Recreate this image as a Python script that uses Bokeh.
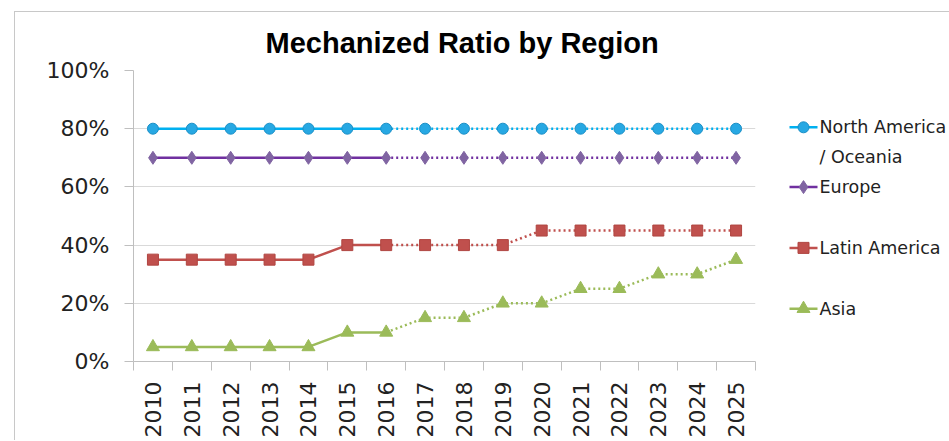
import math
from bokeh.plotting import figure
from bokeh.layouts import row
from bokeh.models import Range1d, FixedTicker, NumeralTickFormatter
from bokeh.core.properties import value
from bokeh.embed import file_html
from bokeh.resources import INLINE

# ---------------- data ----------------
years = [2010, 2011, 2012, 2013, 2014, 2015, 2016, 2017,
         2018, 2019, 2020, 2021, 2022, 2023, 2024, 2025]
last_actual_year = 2016
north_america = [0.80, 0.80, 0.80, 0.80, 0.80, 0.80, 0.80, 0.80,
                 0.80, 0.80, 0.80, 0.80, 0.80, 0.80, 0.80, 0.80]
europe = [0.70, 0.70, 0.70, 0.70, 0.70, 0.70, 0.70, 0.70,
          0.70, 0.70, 0.70, 0.70, 0.70, 0.70, 0.70, 0.70]
latin_america = [0.35, 0.35, 0.35, 0.35, 0.35, 0.40, 0.40, 0.40,
                 0.40, 0.40, 0.45, 0.45, 0.45, 0.45, 0.45, 0.45]
asia = [0.05, 0.05, 0.05, 0.05, 0.05, 0.10, 0.10, 0.15,
        0.15, 0.20, 0.20, 0.25, 0.25, 0.30, 0.30, 0.35]
series_names = ["North America\n/ Oceania", "Europe", "Latin America", "Asia"]
y_ticks = [0.0, 0.2, 0.4, 0.6, 0.8, 1.0]
title_text = "Mechanized Ratio by Region"

series = [
    (series_names[0], north_america, "#00B0F0", "circle", "#27A8E3", "#1B8FC6", 11),
    (series_names[1], europe, "#7030A0", "diamond", "#8064A2", "#8064A2", 13),
    (series_names[2], latin_america, "#C0504D", "square", "#C0504D", "#B04540", 11),
    (series_names[3], asia, "#9BBB59", "triangle", "#9BBB59", "#9BBB59", 13),
]

FONT = "DejaVu Sans"
GRID = "#d9d9d9"
AXIS = "#bfbfbf"
TXT = "#222222"

# layout (page pixels)
TOP_B, BOT_B, H = 58, 78, 428
PW, QW = 745, 189

# ---------------- main chart ----------------
p = figure(width=PW, height=H, output_backend="svg", toolbar_location=None,
           x_range=Range1d(years[0] - 0.5, years[-1] + 0.5), y_range=Range1d(0, 1),
           min_border_left=118, min_border_right=5, min_border_top=TOP_B, min_border_bottom=BOT_B)
p.outline_line_color = None
p.background_fill_color = "white"
p.border_fill_color = "white"
p.xgrid.visible = False
p.ygrid.grid_line_color = GRID
p.ygrid.grid_line_width = 1

p.title.text = title_text
p.title.align = "left"
p.title.offset = 132
p.title.vertical_align = "bottom"
p.title.standoff = 24
p.title.text_font = "Liberation Sans"
p.title.text_font_style = "bold"
p.title.text_font_size = "29px"
p.title.text_color = "#000000"

xa = p.xaxis[0]
xa.ticker = FixedTicker(ticks=years, minor_ticks=[y - 0.5 for y in years] + [years[-1] + 0.5])
xa.major_tick_out = 0
xa.major_tick_in = 0
xa.minor_tick_out = 9
xa.minor_tick_in = 0
xa.minor_tick_line_color = AXIS
xa.axis_line_color = AXIS
xa.major_label_orientation = math.pi / 2
xa.major_label_standoff = 11
xa.major_label_text_font = FONT
xa.major_label_text_font_size = "22px"
xa.major_label_text_color = TXT

ya = p.yaxis[0]
ya.ticker = FixedTicker(ticks=y_ticks)
ya.formatter = NumeralTickFormatter(format="0%")
ya.major_tick_out = 9
ya.major_tick_in = 0
ya.minor_tick_line_color = None
ya.major_tick_line_color = AXIS
ya.axis_line_color = AXIS
ya.major_label_standoff = 15
ya.major_label_text_font = FONT
ya.major_label_text_font_size = "22px"
ya.major_label_text_color = TXT
p.ygrid.ticker = ya.ticker

for name, vals, lc, marker, fc, ec, sz in series:
    actual_x = [y for y in years if y <= last_actual_year]
    actual_y = [v for y, v in zip(years, vals) if y <= last_actual_year]
    fc_x = [y for y in years if y >= last_actual_year]
    fc_y = [v for y, v in zip(years, vals) if y >= last_actual_year]
    p.line(actual_x, actual_y, line_color=lc, line_width=2.5)
    p.line(fc_x, fc_y, line_color=lc, line_width=2.5, line_dash="2 3")
    p.scatter(years, vals, marker=marker, size=sz, fill_color=fc, line_color=ec, line_width=1)

# ---------------- legend panel (coordinates = page pixels) ----------------
q = figure(width=QW, height=H, output_backend="svg", toolbar_location=None,
           x_range=Range1d(760, 760 + QW), y_range=Range1d(12 + H - BOT_B, 12 + TOP_B),
           x_axis_location=None, y_axis_location=None,
           min_border_left=0, min_border_right=0, min_border_top=TOP_B, min_border_bottom=BOT_B)
q.outline_line_color = None
q.grid.visible = False
q.border_fill_color = "white"
q.background_fill_color = "white"

legend_rows = [127, 187, 248, 309]
for (name, vals, lc, marker, fc, ec, sz), ly in zip(series, legend_rows):
    q.line([789, 817], [ly, ly], line_color=lc, line_width=2.5)
    q.scatter([803], [ly], marker=marker, size=sz, fill_color=fc, line_color=ec)
    for k, part in enumerate(name.split("\n")):
        q.text([819], [ly + 30 * k], text=[part], text_font=value(FONT),
               text_font_size="17.5px", text_baseline="middle", text_align="left",
               text_color=TXT)

layout = row(p, q, margin=(11, 0, 0, 14),
             styles={"border-top": "1px solid #c8c8c8", "border-left": "1px solid #c8c8c8"})

open("out.html", "w").write(file_html(layout, INLINE))
